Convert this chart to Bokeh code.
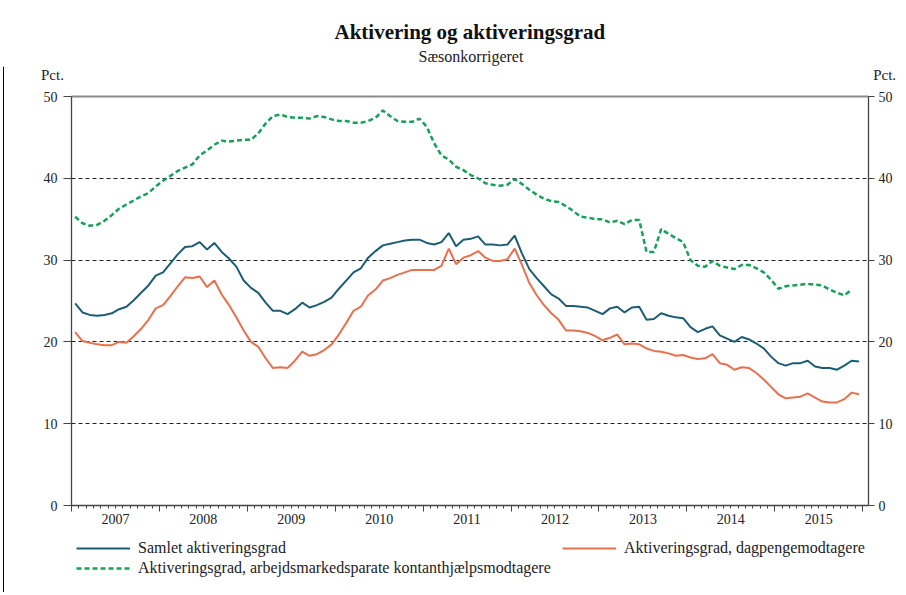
from bokeh.plotting import figure
from bokeh.models import Range1d, FixedTicker, LinearAxis, Legend, LegendItem, Title, Label, Grid
from bokeh.embed import file_html
from bokeh.resources import INLINE
import numpy as np

# ---------------- data (monthly, Jan 2007 onwards) ----------------
years = ["2007", "2008", "2009", "2010", "2011", "2012", "2013", "2014", "2015"]

samlet = [24.7, 23.6, 23.3, 23.2, 23.3, 23.5, 24.0, 24.3, 25.1, 26.0, 26.9, 28.1,
          28.5, 29.6, 30.7, 31.6, 31.7, 32.2, 31.3, 32.1, 31.0, 30.2, 29.2, 27.5,
          26.6, 26.0, 24.8, 23.8, 23.8, 23.4, 24.0, 24.8, 24.2, 24.5, 24.9, 25.4,
          26.5, 27.5, 28.5, 29.0, 30.3, 31.1, 31.8, 32.0, 32.2, 32.4, 32.5, 32.5,
          32.1, 31.9, 32.2, 33.3, 31.7, 32.5, 32.6, 32.9, 31.9, 31.9, 31.8, 31.9,
          33.0, 30.8, 28.9, 27.8, 26.8, 25.8, 25.3, 24.4, 24.4, 24.3, 24.2, 23.8,
          23.4, 24.1, 24.3, 23.6, 24.2, 24.3, 22.7, 22.8, 23.5, 23.2, 23.0, 22.9,
          21.8, 21.2, 21.6, 21.9, 20.8, 20.4, 20.0, 20.6, 20.3, 19.8, 19.2, 18.2,
          17.4, 17.1, 17.4, 17.4, 17.7, 17.0, 16.8, 16.8, 16.6, 17.1, 17.7, 17.6]

dagpenge = [21.2, 20.1, 19.9, 19.7, 19.6, 19.6, 20.0, 19.9, 20.7, 21.6, 22.7, 24.1,
            24.5, 25.6, 26.8, 27.9, 27.8, 28.0, 26.7, 27.5, 25.8, 24.5, 23.0, 21.4,
            20.0, 19.4, 18.0, 16.8, 16.9, 16.8, 17.7, 18.8, 18.3, 18.5, 19.0, 19.7,
            20.9, 22.3, 23.8, 24.3, 25.7, 26.4, 27.5, 27.8, 28.2, 28.5, 28.8, 28.8,
            28.8, 28.8, 29.3, 31.4, 29.5, 30.3, 30.6, 31.1, 30.3, 29.9, 29.9, 30.1,
            31.4, 29.4, 27.2, 25.7, 24.5, 23.5, 22.7, 21.4, 21.4, 21.3, 21.1, 20.7,
            20.2, 20.5, 20.9, 19.7, 19.8, 19.7, 19.2, 18.9, 18.8, 18.6, 18.3, 18.4,
            18.1, 17.9, 18.0, 18.5, 17.4, 17.2, 16.6, 16.9, 16.8, 16.2, 15.4, 14.5,
            13.6, 13.1, 13.2, 13.3, 13.7, 13.2, 12.7, 12.6, 12.6, 13.0, 13.8, 13.6]

kontant = [35.3, 34.5, 34.2, 34.3, 34.8, 35.5, 36.3, 36.8, 37.3, 37.8, 38.2, 39.0,
           39.7, 40.3, 40.9, 41.3, 41.7, 42.8, 43.4, 44.1, 44.6, 44.5, 44.6, 44.7,
           44.7, 45.5, 46.7, 47.6, 47.8, 47.5, 47.4, 47.4, 47.3, 47.6, 47.5, 47.2,
           47.0, 47.0, 46.8, 46.8, 47.0, 47.4, 48.3, 47.6, 47.0, 46.9, 46.9, 47.3,
           46.3, 44.3, 42.8, 42.3, 41.4, 41.0, 40.4, 40.0, 39.4, 39.2, 39.1, 39.2,
           39.9, 39.3, 38.6, 38.0, 37.5, 37.2, 37.1, 36.6, 36.0, 35.3, 35.2, 35.0,
           35.0, 34.6, 34.8, 34.4, 34.9, 34.9, 31.0, 31.0, 33.8, 33.2, 32.7, 32.2,
           30.0, 29.3, 29.2, 29.9, 29.3, 29.1, 28.9, 29.4, 29.4, 29.0, 28.5, 27.6,
           26.5, 26.8, 26.9, 27.0, 27.1, 27.0, 26.9, 26.4, 26.0, 25.7, 26.4]

y_ticks = [0, 10, 20, 30, 40, 50]
unit_label = "Pct."

FONT = "Liberation Serif"
C_BLUE = "#1b5d73"
C_RED = "#e8704f"
C_GREEN = "#17a05a"
C_AXIS = "#444444"
C_TEXT = "#222222"

n_months = len(years) * 12
x_end = n_months + 0.8          # right edge of the chart area (months)
x_s = np.arange(len(samlet)) + 0.5
x_d = np.arange(len(dagpenge)) + 0.5
x_k = np.arange(len(kontant)) + 0.5

# The frame covers the whole canvas below the titles; axes are pinned
# at the chart-area edges so that legend and unit labels can live inside.
W, H, TOP = 900, 592, 66
PX_LEFT, PX_RIGHT, PX_Y0, PX_Y50 = 71, 868, 505, 96
sx = (PX_RIGHT - PX_LEFT) / x_end
sy = (PX_Y0 - PX_Y50) / 50.0
xr = Range1d(-PX_LEFT / sx, (W - PX_LEFT) / sx)
yr = Range1d(-(H - PX_Y0) / sy, (PX_Y0 - TOP) / sy)

p = figure(width=W, height=H, output_backend="svg", toolbar_location=None,
           x_range=xr, y_range=yr, min_border_left=0, min_border_right=0,
           min_border_top=TOP, min_border_bottom=0, title=None)
p.outline_line_color = None
p.background_fill_color = "white"
p.border_fill_color = "white"

# grid (only across the chart area)
p.xgrid.visible = False
p.ygrid.ticker = FixedTicker(ticks=[10, 20, 30, 40])
if "cross_bounds" in Grid.properties():
    p.ygrid.cross_bounds = (0, x_end)
p.ygrid.grid_line_color = "#222222"
p.ygrid.grid_line_dash = "4 3"
p.ygrid.grid_line_width = 1


def style_y(ax, loc, tick, standoff):
    ax.ticker = FixedTicker(ticks=y_ticks)
    ax.fixed_location = loc
    ax.bounds = (0, 50)
    ax.axis_line_color = C_AXIS
    ax.axis_line_width = 1.3
    ax.major_tick_out = tick
    ax.major_tick_in = 0
    ax.major_tick_line_color = C_AXIS
    ax.minor_tick_line_color = None
    ax.major_label_text_font = FONT
    ax.major_label_text_font_size = "14px"
    ax.major_label_text_color = C_TEXT
    ax.major_label_standoff = standoff


style_y(p.yaxis[0], 0, 8, 6)
ra = LinearAxis()
style_y(ra, x_end, 6, 4)
p.add_layout(ra, "right")

# bottom tick axis (year boundaries + monthly minor ticks)
xa = p.xaxis[0]
bounds = list(range(0, n_months + 1, 12))
xa.ticker = FixedTicker(ticks=bounds, minor_ticks=list(range(0, n_months + 1)))
xa.fixed_location = 0
xa.bounds = (0, x_end)
xa.major_label_overrides = {b: "" for b in bounds}
xa.axis_line_color = C_AXIS
xa.axis_line_width = 1.3
xa.major_tick_out = 6
xa.major_tick_in = 0
xa.minor_tick_out = 3
xa.minor_tick_in = 0
xa.major_tick_line_color = C_AXIS
xa.minor_tick_line_color = C_AXIS
xa.major_label_standoff = 0

# bottom label axis (year names centred in each year)
centers = [i * 12 + 6 for i in range(len(years))]
la = LinearAxis(ticker=FixedTicker(ticks=centers, minor_ticks=[]))
la.fixed_location = 0
la.bounds = (0, x_end)
la.major_label_overrides = {c: y for c, y in zip(centers, years)}
la.axis_line_color = None
la.major_tick_line_color = None
la.minor_tick_line_color = None
la.major_tick_out = 0
la.major_tick_in = 0
la.major_label_standoff = 8
la.major_label_text_font = FONT
la.major_label_text_font_size = "14px"
la.major_label_text_color = C_TEXT
p.add_layout(la, "below")

# grey top edge of the chart area
ta = LinearAxis(ticker=FixedTicker(ticks=[], minor_ticks=[]))
ta.fixed_location = 50
ta.bounds = (0, x_end)
ta.axis_line_color = "#8a8a8a"
ta.axis_line_width = 2
ta.major_tick_line_color = None
ta.minor_tick_line_color = None
ta.major_label_text_font_size = "0px"
p.add_layout(ta, "above")

# thin black frame lines of the original picture (left and top)
x_frame = (3 - PX_LEFT) / sx
y_frame_top = (PX_Y0 - 10) / sy
fl = LinearAxis(ticker=FixedTicker(ticks=[], minor_ticks=[]))
fl.fixed_location = x_frame
fl.bounds = (yr.start, y_frame_top)
fl.axis_line_color = "#000000"
fl.axis_line_width = 1
fl.major_tick_line_color = None
fl.minor_tick_line_color = None
fl.major_label_text_font_size = "0px"
p.add_layout(fl, "left")
ft = LinearAxis(ticker=FixedTicker(ticks=[], minor_ticks=[]))
ft.fixed_location = y_frame_top
ft.bounds = (x_frame, xr.end)
ft.axis_line_color = "#000000"
ft.axis_line_width = 1
ft.major_tick_line_color = None
ft.minor_tick_line_color = None
ft.major_label_text_font_size = "0px"
p.add_layout(ft, "above")

# series
r_s = p.line(x_s, samlet, line_color=C_BLUE, line_width=2)
r_d = p.line(x_d, dagpenge, line_color=C_RED, line_width=2)
r_k = p.line(x_k, kontant, line_color=C_GREEN, line_width=2.5, line_dash="5 3")

legend = Legend(items=[
    LegendItem(label="Samlet aktiveringsgrad", renderers=[r_s]),
    LegendItem(label="Aktiveringsgrad, arbejdsmarkedsparate kontanthjælpsmodtagere", renderers=[r_k]),
    LegendItem(label="Aktiveringsgrad, dagpengemodtagere", renderers=[r_d]),
], ncols=2, location=(PX_LEFT + 5, 15))
legend.border_line_color = None
legend.background_fill_alpha = 0
legend.label_text_font = FONT
legend.label_text_font_size = "16px"
legend.label_text_color = C_TEXT
legend.glyph_width = 54
legend.glyph_height = 14
legend.label_standoff = 8
legend.label_width = 422
legend.spacing = 2
legend.padding = 4
legend.margin = 0
p.add_layout(legend)

# "Pct." unit labels above both value axes
for xpos in (-2.6, x_end + 2.2):
    p.add_layout(Label(x=xpos, y=52.6, text=unit_label, text_font=FONT, text_font_size="15px",
                       text_align="center", text_baseline="middle", text_color=C_TEXT))

# titles
sub = Title(text="Sæsonkorrigeret", align="left", text_font=FONT, offset=418,
            text_font_size="16px", text_font_style="normal", text_color=C_TEXT, standoff=4)
p.add_layout(sub, "above")
main = Title(text="Aktivering og aktiveringsgrad", align="left", text_font=FONT, offset=334,
             text_font_size="21px", text_font_style="bold", text_color="#111111", standoff=0)
p.add_layout(main, "above")

open("out.html", "w").write(file_html(p, INLINE))
